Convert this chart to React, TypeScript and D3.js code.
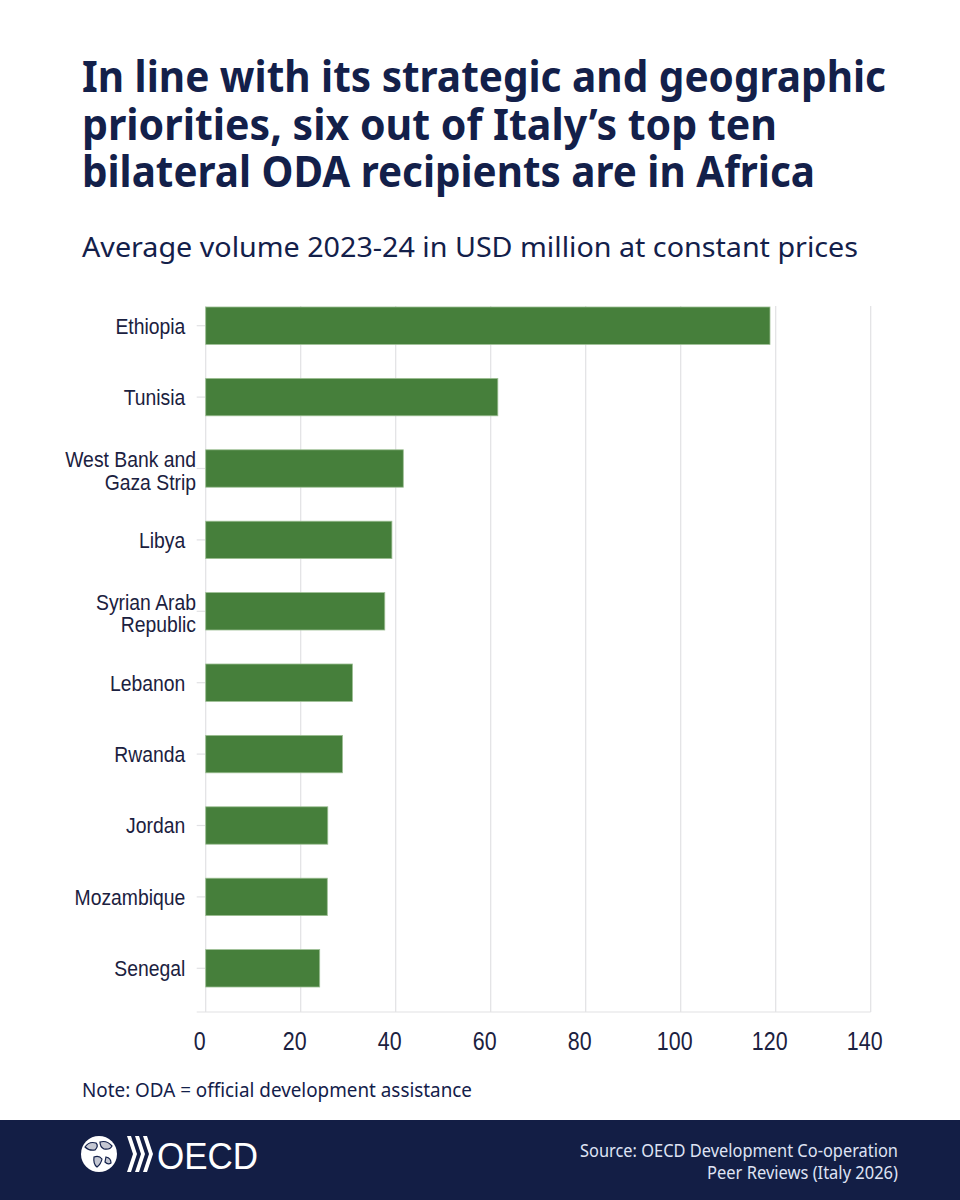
import * as d3 from "d3";
import { useMemo } from "react";

const W = 960;
const H = 1200;

// Italy's top ten bilateral ODA recipients, avg 2023-24, USD million
const countries = [
  ["Ethiopia  "],
  ["Tunisia  "],
  ["West Bank and", "Gaza Strip"],
  ["Libya  "],
  ["Syrian Arab", "Republic"],
  ["Lebanon  "],
  ["Rwanda  "],
  ["Jordan  "],
  ["Mozambique  "],
  ["Senegal  "],
];
const values = [118.8, 61.5, 41.6, 39.2, 37.7, 30.9, 28.8, 25.7, 25.6, 24.0];
const xTicks = [0, 20, 40, 60, 80, 100, 120, 140];

const titleLines = [
  "In line with its strategic and geographic",
  "priorities, six out of Italy\u2019s top ten",
  "bilateral ODA recipients are in Africa",
];
const titleWidths = [804, 695, 733];
const subtitle = "Average volume 2023-24 in USD million at constant prices";
const note = "Note: ODA = official development assistance";
const sourceLines = ["Source: OECD Development Co-operation", "Peer Reviews (Italy 2026)"];
const sourceWidths = [318, 191];

const NAVY = "#13204a";
const GREEN = "#467f3b";
const GRID = "#e1e1e4";

const PLOT = { left: 205.7, right: 870.7, top: 290, bottom: 1004, gridTop: 306, axisY: 1012 };

export default function App() {
  const keys = countries.map((c) => c.join(" ").trim());

  const x = useMemo(
    () => d3.scaleLinear().domain([0, 140]).range([PLOT.left, PLOT.right]),
    [],
  );
  const y = useMemo(
    () =>
      d3
        .scaleBand<string>()
        .domain(keys)
        .range([PLOT.top, PLOT.bottom])
        .paddingInner(0.476)
        .paddingOuter(0.238),
    [],
  );

  return (
    <>
      <style>{`body{margin:0}`}</style>
      <svg width={W} height={H} viewBox={`0 0 ${W} ${H}`} style={{ display: "block" }}>
        <rect width={W} height={H} fill="#ffffff" />

        {/* Title + subtitle */}
        {titleLines.map((t, i) => (
          <text
            key={t}
            x={82}
            y={92 + i * 47.5}
            fontFamily="'Noto Sans', sans-serif"
            fontWeight={700}
            fontSize={43}
            fill={NAVY}
            textLength={titleWidths[i]}
            lengthAdjust="spacingAndGlyphs"
          >
            {t}
          </text>
        ))}
        <text
          x={82}
          y={257}
          fontFamily="'Noto Sans', sans-serif"
          fontSize={27}
          fill={NAVY}
          textLength={776}
          lengthAdjust="spacingAndGlyphs"
        >
          {subtitle}
        </text>

        {/* Gridlines */}
        {xTicks.map((t) => (
          <line
            key={`g${t}`}
            x1={x(t)}
            x2={x(t)}
            y1={PLOT.gridTop}
            y2={PLOT.axisY}
            stroke={GRID}
            strokeWidth={1.2}
          />
        ))}
        <line
          x1={PLOT.left - 9}
          x2={PLOT.right}
          y1={PLOT.axisY}
          y2={PLOT.axisY}
          stroke={GRID}
          strokeWidth={1.2}
        />

        {/* Category ticks + labels */}
        {countries.map((lines, i) => {
          const cy = (y(keys[i]) ?? 0) + y.bandwidth() / 2;
          return (
            <g key={keys[i]}>
              <line
                x1={PLOT.left - 9}
                x2={PLOT.left}
                y1={cy}
                y2={cy}
                stroke={GRID}
                strokeWidth={1.2}
              />
              {lines.map((l, j) => (
                <text
                  key={l}
                  transform={`translate(196,${
                    cy + (lines.length === 1 ? 0 : 2 + (j - 0.5) * 22.6)
                  }) scale(0.9,1)`}
                  textAnchor="end"
                  dominantBaseline="central"
                  fontFamily="'Liberation Sans', Arial, sans-serif"
                  fontSize={21.5}
                  fill="#1b2140"
                  style={{ whiteSpace: "pre" }}
                >
                  {l}
                </text>
              ))}
            </g>
          );
        })}

        {/* Bars */}
        {values.map((v, i) => (
          <rect
            key={keys[i]}
            x={x(0)}
            y={y(keys[i])}
            width={x(v) - x(0)}
            height={y.bandwidth()}
            fill={GREEN}
            stroke="#9dbf94"
            strokeWidth={0.8}
          />
        ))}

        {/* X tick labels */}
        {xTicks.map((t) => (
          <text
            key={`t${t}`}
            transform={`translate(${x(t) - 6},1050) scale(0.84,1)`}
            textAnchor="middle"
            fontFamily="'Liberation Sans', Arial, sans-serif"
            fontSize={25.5}
            fill="#1b2140"
          >
            {t}
          </text>
        ))}

        {/* Note */}
        <text
          x={82}
          y={1097}
          fontFamily="'Noto Sans', sans-serif"
          fontSize={20}
          fill={NAVY}
          textLength={390}
          lengthAdjust="spacingAndGlyphs"
        >
          {note}
        </text>

        {/* Footer */}
        <rect x={0} y={1120} width={W} height={80} fill="#131e45" />
        <g>
          <circle cx={99} cy={1154} r={18} fill="#ffffff" />
          <path
            d="M85 1147 q4 -6 11 -4 q3 3 -1 7 q-6 1 -10 -3 Z M100 1142 q7 -2 12 4 q-2 4 -8 3 q-4 -2 -4 -7 Z M94 1157 q5 -2 8 2 q-1 5 -5 8 q-4 -3 -3 -10 Z M106 1157 q5 1 5 6 q-3 2 -6 -1 Z"
            fill={NAVY}
            fillOpacity={0.25}
            stroke={NAVY}
            strokeWidth={1.2}
          />
          {[127, 135, 143].map((cx) => (
            <path
              key={cx}
              d={`M${cx} 1136 L${cx + 4} 1136 L${cx + 10} 1154 L${cx + 4} 1172 L${cx} 1172 L${cx + 6} 1154 Z`}
              fill="#ffffff"
            />
          ))}
          <text
            transform="translate(157,1169) scale(1,1.05)"
            fontFamily="'Liberation Sans', Arial, sans-serif"
            fontSize={35}
            fill="#ffffff"
          >
            OECD
          </text>
        </g>
        {sourceLines.map((s, i) => (
          <text
            key={s}
            x={898}
            y={1157 + i * 21.5}
            textAnchor="end"
            fontFamily="'Noto Sans', sans-serif"
            fontSize={18.5}
            fill="#dfe3f4"
            textLength={sourceWidths[i]}
            lengthAdjust="spacingAndGlyphs"
          >
            {s}
          </text>
        ))}
      </svg>
    </>
  );
}
